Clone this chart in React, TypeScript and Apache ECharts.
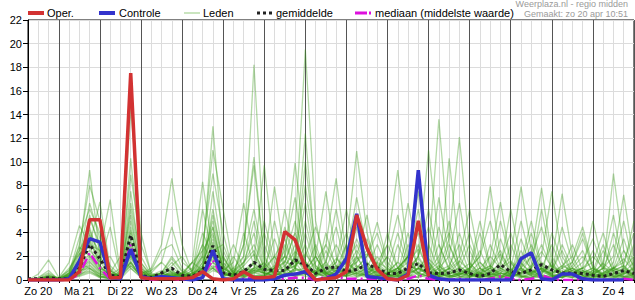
import React, { useEffect, useRef } from "react";
import * as echarts from "echarts";

// Day labels (placed at 12:00 of each day); one point every 6 hours starting Zo 20 06:00
const dayLabels = ["Zo 20", "Ma 21", "Di 22", "Wo 23", "Do 24", "Vr 25", "Za 26", "Zo 27", "Ma 28", "Di 29", "Wo 30", "Do 1", "Vr 2", "Za 3", "Zo 4"];
const stepCount = 60;

const oper = [
  0, 0, 0,
  0, 0, 0.7, 5.1,
  5.1, 0.2, 0.2, 17.5,
  0.2, 0.1, 0.1, 0.1,
  0.1, 0.2, 0.7, 0.1,
  0, 0.1, 0.7, 0.2,
  0.2, 0.3, 4.1, 3.4,
  1.0, 0, 0.1, 0.2,
  0.7, 5.5, 2.7, 0.9,
  0.1, 0, 0.4, 5.0,
  0.3,
];

const controle = [
  0, 0, 0,
  0, 0.1, 1.6, 3.5,
  3.2, 0.2, 0.1, 2.6,
  0.3, 0.1, 0.3, 0.2,
  0.1, 0, 0.2, 2.5,
  0.1, 0, 0, 0,
  0, 0.1, 0.4, 0.5,
  0.7, 0, 0.1, 0.5,
  1.8, 5.6, 0.3, 0.2,
  0.1, 0, 0.5, 9.3,
  0.4, 0.1, 0, 0,
  0, 0, 0, 0,
  0, 1.8, 2.3, 0.1,
  0, 0.5, 0.5, 0.1,
  0, 0, 0, 0,
];

const gemiddelde = [
  0.1, 0.1, 0.2,
  0.1, 0.1, 1.0, 3.0,
  1.8, 0.4, 0.3, 3.8,
  0.4, 0.2, 0.6, 1.0,
  0.4, 0.3, 0.8, 2.9,
  0.6, 0.4, 0.7, 1.5,
  0.9, 0.8, 0.8, 1.7,
  1.3, 0.55, 1.0, 1.1,
  0.7, 0.9, 1.3, 1.0,
  0.55, 0.55, 1.0, 1.4,
  0.6, 0.55, 0.6, 0.85,
  0.55, 0.3, 0.55, 1.3,
  0.7, 0.55, 0.85, 1.3,
  0.85, 0.6, 0.6, 0.55,
  0.4, 0.3, 0.55, 0.8,
  0.55,
];

const mediaan = [
  0, 0, 0,
  0, 0, 0.5, 2.3,
  1.0, 0.1, 0.1, 3.0,
  0.1, 0, 0.1, 0.1,
  0, 0, 0.3, 1.7,
  0.1, 0, 0.1, 0.2,
  0.1, 0.1, 0.1, 0.2,
  0.2, 0, 0.3, 0.3,
  0.1, 0.1, 0.1, 0.1,
  0, 0, 0.1, 0.4,
  0.1, 0, 0, 0.1,
  0, 0, 0.1, 0.3,
  0.1, 0, 0.1, 0.4,
  0.1, 0, 0, 0.1,
  0, 0, 0, 0.1,
  0,
];

// Ensemble members (Leden)
const lid01 = [0, 0.5, 1.7, 0.2, 1.5, 4.6, 3.0, 6.6, 1.0, 0.2, 4.5, 0.8, 0.1, 0.3, 0.5, 0.2, 0.6, 6.0, 2.0, 0.5, 0.3, 4.0, 1.2, 0.4, 0.2, 3.0, 1.0, 0.5, 0.3, 2.5, 0.8, 0.3, 2.0, 0.6, 0.2, 0.1, 3.0, 1.0, 0.4, 0.6, 4.5, 1.5, 0.3, 0.2, 0.5, 1.0, 5.0, 1.5, 0.3, 0.1, 0.4, 0.8, 2.5, 0.6, 0.2, 0.1, 0.3, 0.8, 1.2, 5.0];
const lid02 = [0, 0.2, 0.8, 0, 0.6, 2.5, 9.3, 2.0, 0.4, 0.1, 7.5, 1.2, 0.2, 0.1, 0.4, 0.2, 0.1, 1.0, 6.0, 1.5, 0.2, 0.4, 0.8, 0.6, 5.0, 1.2, 0.3, 0.8, 3.0, 0.6, 0.2, 1.0, 4.5, 0.8, 0.2, 0.1, 0.4, 1.0, 3.0, 0.6, 0.2, 10.3, 2.0, 0.5, 0.2, 0.1, 0.6, 0.4, 3.5, 1.0, 0.2, 0.1, 0.3, 0.6, 1.0, 5.0, 1.2, 0.3, 0.1, 0.2];
const lid03 = [0, 0.1, 0.5, 0.1, 0.3, 3.0, 8.0, 5.0, 0.8, 0.2, 3.5, 0.5, 0.1, 0.2, 0.8, 0.3, 0.2, 0.8, 2.0, 0.3, 0.6, 1.5, 4.0, 0.8, 0.2, 0.4, 1.0, 3.0, 0.6, 0.2, 0.5, 3.0, 1.0, 0.3, 0.1, 0.2, 0.5, 2.0, 7.5, 1.5, 0.3, 0.1, 0.5, 0.8, 2.5, 0.6, 0.2, 0.3, 1.0, 2.0, 4.5, 1.0, 0.3, 0.2, 0.6, 0.4, 1.5, 5.5, 1.0, 0.3];
const lid04 = [0, 0, 0.2, 0, 0.5, 2.0, 6.5, 3.5, 0.6, 0.3, 2.5, 0.3, 0.1, 0, 0.2, 0.5, 0.3, 1.2, 3.0, 0.8, 0.2, 0.5, 1.0, 4.0, 1.0, 0.3, 2.0, 12.4, 2.0, 0.5, 0.2, 0.4, 0.8, 1.5, 0.6, 4.0, 1.0, 0.3, 0.2, 0.5, 1.0, 2.0, 6.5, 1.5, 0.4, 0.2, 0.8, 0.3, 0.6, 2.0, 7.8, 2.0, 0.5, 0.2, 0.1, 0.5, 1.0, 3.0, 0.8, 0.2];
const lid05 = [0, 0.1, 0.3, 0.2, 0.4, 1.5, 5.5, 2.5, 6.8, 0.5, 1.5, 0.2, 0.1, 0.6, 0.3, 0.1, 0.4, 2.0, 1.0, 0.3, 0.1, 0.2, 0.6, 1.0, 2.0, 0.5, 0.3, 0.6, 1.5, 3.0, 8.6, 2.0, 0.5, 0.2, 0.4, 1.0, 0.3, 3.0, 1.2, 0.4, 0.2, 0.6, 1.5, 4.0, 1.0, 0.3, 0.2, 0.5, 1.0, 0.6, 0.3, 4.0, 1.5, 0.4, 0.2, 0.6, 0.3, 1.0, 3.5, 0.8];
const lid06 = [0, 0, 0.1, 0, 0.3, 1.0, 4.5, 1.5, 4.5, 0.3, 2.0, 0.4, 0.2, 0.1, 0.5, 0.3, 0.8, 3.0, 9.0, 4.0, 0.6, 0.2, 0.4, 0.3, 1.0, 2.5, 7.0, 1.5, 0.4, 0.6, 1.0, 3.0, 10.9, 4.0, 0.8, 0.3, 0.1, 0.5, 1.0, 0.6, 3.0, 1.0, 0.3, 0.2, 0.8, 1.2, 2.5, 0.6, 0.2, 0.4, 1.0, 0.3, 0.6, 1.2, 2.5, 0.5, 0.2, 0.1, 0.6, 1.5];
const lid07 = [0, 0.1, 0.2, 0.1, 0.2, 1.2, 4.0, 1.0, 0.6, 2.0, 1.0, 0.2, 0.4, 0.8, 0.3, 0.1, 0.2, 1.5, 3.5, 1.0, 0.5, 2.0, 18.2, 3.0, 0.8, 0.3, 0.5, 0.8, 2.0, 0.6, 0.2, 0.4, 1.0, 2.0, 4.9, 1.5, 0.5, 0.2, 0.3, 0.8, 0.4, 3.0, 1.0, 0.3, 0.6, 0.2, 0.1, 1.0, 5.0, 1.5, 0.4, 0.2, 0.5, 1.0, 0.6, 2.5, 0.8, 0.3, 0.2, 0.5];
const lid08 = [0, 0, 0, 0, 0.2, 0.8, 3.5, 1.2, 0.3, 0.6, 14.5, 4.0, 0.5, 0.2, 0.1, 0.3, 0.2, 0.5, 1.0, 0.3, 0.8, 1.5, 2.5, 0.6, 0.3, 0.8, 1.5, 6.5, 1.2, 0.4, 0.2, 0.6, 1.5, 2.5, 0.8, 3.0, 9.3, 2.0, 0.5, 0.3, 0.6, 0.2, 0.4, 1.0, 2.0, 5.0, 1.5, 0.4, 0.2, 0.6, 1.0, 0.8, 4.5, 1.5, 0.3, 0.2, 0.4, 0.6, 1.0, 2.0];
const lid09 = [0, 0.1, 0.2, 0.1, 0.6, 2.2, 3.0, 2.5, 0.8, 0.2, 1.2, 0.4, 0.8, 1.5, 0.6, 0.5, 1.0, 3.0, 1.5, 0.6, 0.2, 0.5, 1.5, 9.7, 2.0, 0.6, 0.3, 0.5, 0.8, 1.5, 4.5, 1.0, 0.3, 0.5, 1.2, 0.6, 0.8, 2.0, 0.6, 0.3, 1.0, 3.5, 12.1, 2.5, 0.6, 0.3, 0.2, 0.5, 1.2, 4.0, 1.0, 0.4, 0.2, 0.6, 1.0, 1.5, 4.0, 1.0, 0.3, 0.2];
const lid10 = [0, 0, 0.1, 0, 0.3, 1.8, 2.5, 1.5, 2.0, 0.4, 1.8, 0.6, 0.2, 0.1, 0.3, 0.2, 0.5, 1.0, 7.5, 2.0, 0.4, 0.2, 0.8, 1.5, 7.9, 2.0, 0.6, 0.3, 0.2, 4.0, 1.0, 0.5, 0.8, 0.3, 1.5, 3.0, 1.0, 0.5, 0.2, 3.0, 0.8, 0.3, 0.6, 0.4, 0.2, 3.0, 1.0, 0.6, 0.3, 0.2, 0.5, 1.5, 7.3, 2.0, 0.4, 0.2, 0.5, 1.0, 0.6, 3.0];
const lid11 = [0, 0, 0.3, 0.2, 0.8, 2.8, 2.0, 0.8, 0.3, 0.1, 10.3, 1.5, 0.3, 0.2, 0.4, 0.6, 0.3, 0.2, 0.8, 0.5, 2.0, 0.6, 0.3, 0.4, 1.0, 6.0, 2.0, 0.6, 0.3, 1.0, 3.0, 1.2, 0.4, 0.6, 2.0, 0.8, 0.3, 0.2, 1.0, 2.0, 13.6, 3.0, 0.8, 0.5, 0.3, 0.6, 1.5, 4.0, 1.0, 0.4, 0.2, 0.3, 0.6, 1.0, 2.0, 0.8, 0.3, 0.2, 0.5, 0.6];
const lid12 = [0, 0.1, 0, 0, 0.2, 0.6, 1.5, 0.6, 0.2, 0.5, 8.9, 3.0, 0.6, 0.2, 0.1, 0.2, 0.6, 0.4, 1.5, 0.8, 1.5, 6.5, 2.0, 0.5, 0.8, 2.0, 9.9, 2.5, 0.6, 0.3, 0.8, 1.5, 3.0, 1.0, 0.4, 0.2, 0.6, 4.0, 1.0, 0.5, 0.3, 1.0, 4.0, 1.2, 0.4, 0.2, 0.6, 0.3, 1.5, 5.0, 1.2, 0.4, 0.2, 0.5, 0.8, 0.6, 2.5, 0.8, 0.3, 0.1];
const lid13 = [0, 0, 0.1, 0.1, 0.4, 1.0, 2.0, 1.0, 0.5, 0.3, 6.5, 2.0, 0.4, 0.6, 0.2, 0.1, 0.3, 0.8, 2.5, 3.0, 0.8, 0.3, 0.6, 1.2, 0.5, 4.5, 1.5, 0.4, 0.8, 0.6, 1.5, 6.0, 2.0, 0.5, 0.3, 0.6, 1.0, 2.0, 5.0, 1.0, 0.3, 0.2, 0.5, 0.8, 4.0, 1.0, 0.3, 0.2, 0.6, 1.0, 2.0, 7.5, 2.0, 0.6, 0.3, 0.2, 0.5, 1.5, 5.0, 1.0];
const lid14 = [0, 0, 0, 0, 0.1, 0.5, 1.2, 0.4, 0.1, 0.8, 5.5, 0.8, 0.2, 0.1, 0.3, 0.6, 1.5, 2.5, 4.0, 1.2, 0.4, 3.0, 10.4, 2.0, 0.6, 0.3, 0.8, 1.0, 0.5, 3.0, 1.2, 0.3, 0.6, 1.0, 3.0, 1.0, 0.4, 0.6, 2.0, 11.0, 3.0, 0.8, 0.3, 0.6, 1.0, 0.5, 3.5, 1.0, 0.3, 0.2, 0.6, 1.2, 0.5, 1.5, 4.0, 1.0, 0.3, 0.6, 0.2, 0.4];
const lid15 = [0, 0.1, 0.2, 0.1, 0.3, 0.8, 1.0, 0.5, 0.2, 0.3, 4.0, 1.0, 0.3, 0.5, 1.5, 0.4, 0.2, 0.6, 2.5, 0.8, 3.0, 1.0, 0.4, 0.3, 1.0, 1.5, 4.0, 19.5, 5.0, 1.0, 0.3, 0.4, 0.2, 0.6, 1.0, 2.0, 5.5, 1.5, 0.6, 0.3, 0.8, 1.2, 3.0, 0.6, 0.2, 0.4, 1.0, 0.5, 2.5, 0.8, 0.3, 0.2, 0.6, 1.0, 0.4, 0.8, 3.0, 0.6, 0.2, 0.3];
const lid16 = [0, 0, 0.1, 0, 0.2, 0.6, 1.8, 0.8, 0.2, 0.6, 3.0, 0.6, 0.8, 2.5, 3.0, 1.0, 0.3, 0.5, 1.2, 0.4, 1.0, 2.0, 6.0, 1.5, 0.4, 0.8, 1.2, 2.0, 4.5, 1.5, 0.5, 1.0, 3.5, 1.2, 0.3, 0.5, 0.2, 0.8, 2.0, 6.0, 1.5, 0.4, 0.2, 0.3, 1.0, 2.0, 6.6, 1.5, 0.4, 0.2, 0.8, 0.6, 1.0, 3.0, 0.8, 0.3, 0.2, 0.5, 1.0, 0.6];
const lid17 = [0, 0, 0, 0, 0.1, 0.4, 1.0, 0.3, 0.1, 0.2, 2.2, 0.5, 1.0, 3.0, 8.6, 3.0, 0.6, 0.3, 1.0, 0.5, 0.2, 0.8, 1.5, 0.6, 1.2, 2.0, 5.0, 1.5, 0.6, 0.3, 0.8, 2.0, 7.0, 2.5, 0.6, 0.3, 1.0, 2.0, 4.0, 1.2, 0.5, 0.3, 0.6, 1.0, 2.0, 7.9, 2.0, 0.6, 0.3, 0.5, 1.0, 3.0, 1.0, 0.4, 0.2, 0.5, 1.0, 0.8, 2.5, 1.2];
const lid18 = [0, 0, 0.2, 0.1, 0.4, 1.2, 2.2, 1.2, 0.3, 0.1, 1.0, 0.3, 0.6, 1.5, 4.5, 1.5, 0.8, 4.0, 2.0, 0.6, 0.3, 1.0, 0.8, 1.0, 3.5, 1.0, 0.5, 0.8, 2.0, 7.5, 2.0, 0.6, 0.3, 0.8, 1.5, 1.0, 4.0, 1.2, 0.4, 0.2, 0.6, 1.0, 2.0, 6.0, 1.5, 0.5, 0.3, 0.8, 2.0, 1.0, 6.0, 1.5, 0.4, 0.2, 0.6, 1.0, 0.6, 4.0, 1.2, 0.3];
const lid19 = [0, 0.1, 0.1, 0, 0.2, 0.9, 1.6, 0.7, 0.2, 0.4, 1.5, 0.4, 0.2, 0.6, 2.0, 0.8, 0.3, 1.8, 5.0, 1.5, 0.6, 3.0, 9.7, 1.8, 0.5, 0.4, 1.0, 4.0, 1.0, 0.5, 0.8, 1.0, 2.0, 5.5, 1.2, 0.4, 0.2, 0.6, 1.5, 0.8, 1.5, 5.0, 1.0, 0.3, 0.6, 1.0, 0.4, 3.0, 1.0, 0.3, 0.2, 0.6, 1.2, 2.0, 4.5, 1.2, 0.4, 0.3, 0.8, 0.5];
const lid20 = [0, 0, 0, 0, 0.3, 0.7, 1.3, 0.5, 0.3, 0.2, 2.8, 0.7, 0.3, 0.4, 1.2, 2.0, 0.6, 1.0, 4.5, 1.0, 0.4, 1.2, 5.0, 1.0, 0.6, 1.5, 4.0, 1.2, 0.5, 0.8, 1.5, 4.0, 1.2, 0.5, 0.3, 0.6, 1.5, 6.5, 2.0, 0.6, 0.3, 0.5, 1.0, 3.0, 1.0, 0.4, 0.8, 0.5, 1.0, 3.0, 0.8, 0.3, 0.2, 0.6, 1.0, 2.0, 1.0, 9.0, 2.5, 0.6];
const lid21 = [0, 0.1, 0.4, 0.1, 0.5, 1.4, 1.0, 0.3, 0.1, 0.2, 1.4, 0.3, 0.1, 0.3, 0.6, 0.4, 1.5, 0.8, 1.0, 2.0, 0.6, 0.4, 1.0, 0.8, 2.0, 3.5, 1.0, 10.0, 2.5, 0.6, 0.3, 0.5, 1.0, 2.0, 4.0, 1.2, 0.4, 0.3, 0.6, 1.0, 7.0, 2.0, 0.5, 0.3, 0.2, 0.8, 1.2, 6.0, 1.5, 0.5, 0.3, 0.4, 1.0, 1.5, 3.5, 1.0, 0.4, 0.2, 0.5, 1.0];
const lid22 = [0, 0, 0.1, 0, 0.2, 0.5, 0.8, 0.2, 0.4, 1.0, 2.0, 0.5, 0.2, 0.1, 0.3, 0.5, 1.5, 8.3, 2.5, 0.6, 0.3, 1.5, 3.0, 1.0, 0.4, 0.6, 2.0, 8.0, 2.0, 0.5, 1.0, 2.0, 5.5, 1.5, 0.4, 0.3, 0.6, 1.0, 2.0, 4.5, 1.2, 0.4, 0.2, 0.6, 0.3, 2.0, 1.0, 0.4, 0.8, 0.6, 1.5, 0.8, 3.0, 1.0, 0.4, 0.3, 0.6, 1.0, 1.5, 4.0];
const lid23 = [0, 0, 0, 0, 0.1, 0.3, 0.6, 0.2, 0.1, 0.3, 1.6, 0.2, 0.3, 0.6, 0.8, 0.3, 0.8, 2.0, 13.0, 2.5, 0.6, 0.3, 1.0, 5.0, 1.5, 0.5, 0.8, 5.0, 1.2, 0.4, 0.6, 1.0, 1.5, 3.5, 1.0, 0.5, 1.0, 2.0, 6.0, 1.5, 0.5, 0.3, 0.6, 1.0, 5.0, 1.2, 0.4, 0.3, 0.6, 1.0, 3.0, 1.0, 0.4, 0.6, 0.8, 0.4, 1.0, 2.0, 7.2, 1.5];
const lid24 = [0, 0, 0.1, 0, 0.2, 0.4, 0.7, 0.3, 0.2, 0.4, 1.2, 0.4, 0.2, 0.3, 0.7, 0.2, 0.6, 2.5, 11.0, 6.0, 1.0, 0.4, 0.8, 0.6, 0.4, 1.0, 3.0, 1.0, 0.5, 1.5, 6.0, 1.5, 0.6, 0.3, 0.8, 2.0, 0.6, 0.4, 1.0, 0.8, 2.0, 4.0, 1.2, 0.5, 0.3, 0.6, 1.0, 2.0, 7.9, 2.5, 0.8, 0.4, 0.2, 0.8, 1.5, 3.5, 1.0, 0.4, 0.3, 0.6];
const lid25 = [0, 0.2, 0.6, 0.1, 0.8, 2.5, 4.2, 2.0, 0.5, 0.3, 3.2, 0.6, 0.2, 0.4, 1.0, 0.5, 0.3, 1.5, 3.8, 1.0, 0.4, 1.2, 2.2, 0.8, 1.0, 2.0, 1.5, 1.2, 0.6, 0.8, 1.8, 1.0, 2.5, 1.2, 0.5, 0.3, 0.8, 1.5, 2.6, 1.0, 0.6, 0.9, 1.6, 0.8, 0.4, 1.0, 2.2, 0.9, 0.5, 1.2, 2.4, 1.1, 0.6, 0.8, 1.0, 0.5, 0.4, 1.0, 1.8, 0.7];
const lid26 = [0, 0, 0.3, 0, 0.4, 1.8, 5.2, 3.0, 1.2, 0.4, 5.0, 1.0, 0.3, 0.6, 1.8, 0.7, 0.4, 2.2, 4.5, 0.8, 0.3, 0.6, 1.4, 0.5, 0.6, 1.2, 2.4, 1.6, 0.5, 1.0, 0.8, 0.6, 1.8, 2.2, 1.0, 0.4, 0.3, 0.9, 1.8, 0.6, 1.2, 0.5, 0.8, 1.4, 0.6, 0.3, 0.9, 1.6, 0.8, 0.4, 0.7, 1.3, 0.5, 0.3, 0.6, 1.0, 0.5, 0.8, 1.2, 0.4];
const lid27 = [0, 0.1, 0.2, 0.1, 0.6, 3.6, 6.0, 4.0, 0.6, 0.2, 2.2, 0.4, 0.2, 0.3, 0.6, 0.3, 0.5, 1.2, 2.8, 0.6, 0.2, 0.8, 1.0, 1.4, 0.6, 0.8, 1.2, 2.2, 1.0, 0.4, 0.6, 1.5, 0.8, 0.6, 1.4, 0.7, 1.5, 0.8, 0.6, 1.8, 0.9, 0.4, 1.1, 0.6, 1.5, 0.7, 0.3, 0.8, 1.4, 0.6, 1.0, 0.5, 1.2, 0.8, 0.4, 0.6, 1.4, 0.7, 0.5, 1.1];
const lid28 = [0, 0, 0.1, 0, 0.3, 1.2, 3.2, 1.6, 0.3, 0.2, 6.0, 1.4, 0.4, 0.2, 0.5, 0.4, 0.2, 0.9, 5.5, 1.8, 0.6, 0.3, 0.7, 0.4, 0.8, 1.6, 1.0, 0.7, 0.3, 0.5, 1.2, 0.8, 0.5, 1.0, 0.6, 0.3, 0.6, 1.2, 0.9, 0.5, 0.3, 0.7, 0.4, 0.9, 0.5, 0.6, 0.3, 0.4, 0.9, 0.5, 1.3, 0.6, 0.8, 0.4, 0.7, 0.3, 0.6, 1.1, 0.6, 0.3];
const lid29 = [0, 0.1, 0.4, 0.1, 1.0, 2.2, 2.8, 1.0, 0.2, 0.1, 2.6, 0.5, 0.1, 0.2, 0.4, 0.2, 0.2, 0.6, 1.8, 0.4, 0.5, 0.9, 0.6, 0.3, 0.5, 0.4, 0.9, 0.6, 0.4, 0.7, 0.5, 0.3, 0.6, 0.4, 0.8, 0.5, 0.3, 0.5, 1.0, 0.4, 0.6, 0.3, 0.5, 0.7, 0.3, 0.4, 0.6, 0.3, 0.5, 0.8, 0.4, 0.2, 0.5, 0.3, 0.6, 0.4, 0.2, 0.5, 0.3, 0.5];
const lid30 = [0, 0, 0.2, 0, 0.5, 1.6, 3.8, 2.4, 0.8, 0.3, 4.2, 0.8, 0.3, 0.5, 0.3, 0.6, 0.3, 1.0, 3.2, 1.2, 0.3, 0.5, 0.9, 0.6, 0.3, 0.9, 1.8, 0.9, 0.6, 1.3, 0.7, 0.5, 1.2, 0.7, 0.4, 0.6, 1.0, 0.5, 1.4, 0.7, 0.4, 1.0, 0.6, 0.3, 0.7, 1.2, 0.5, 0.6, 0.4, 0.7, 0.9, 0.5, 0.3, 0.6, 0.4, 0.8, 0.5, 0.3, 0.6, 0.9];

const leden = [lid01, lid02, lid03, lid04, lid05, lid06, lid07, lid08, lid09, lid10, lid11, lid12, lid13, lid14, lid15, lid16, lid17, lid18, lid19, lid20, lid21, lid22, lid23, lid24, lid25, lid26, lid27, lid28, lid29, lid30];

const FONT = '"Liberation Sans", Arial, sans-serif';

export default function App() {
  const ref = useRef<HTMLDivElement>(null);

  useEffect(() => {
    if (!ref.current) return;
    const chart = echarts.init(ref.current, null, { renderer: "svg" });
    const cats = Array.from({ length: stepCount }, (_, i) => String(i));

    const memberSeries = leden.map((d) => ({
      type: "line",
      name: "Leden",
      data: d,
      symbol: "none",
      silent: true,
      z: 2,
      lineStyle: { color: "rgba(56,154,22,0.38)", width: 1.3 },
    }));

    const legendY = 13;
    const legendText = (x: number, text: string) => ({
      type: "text",
      x,
      y: legendY,
      style: { text, fill: "#000", fontSize: 11, fontFamily: FONT, verticalAlign: "middle", align: "left" },
    });
    const legendLine = (x: number, w: number, stroke: string, lineWidth: number, lineDash?: number[]) => ({
      type: "line",
      shape: { x1: x, y1: legendY, x2: x + w, y2: legendY },
      style: { stroke, lineWidth, lineDash },
    });

    chart.setOption({
      animation: false,
      backgroundColor: "#fff",
      grid: { left: 28, right: 1, top: 20, bottom: 20, show: true, borderColor: "#000", borderWidth: 1 },
      xAxis: [
        {
          type: "category",
          data: cats,
          boundaryGap: false,
          axisLine: { lineStyle: { color: "#000", width: 1 } },
          axisTick: { show: true, interval: 0, length: 3, lineStyle: { color: "#000" } },
          axisLabel: {
            interval: (i: number) => i % 4 === 1,
            formatter: (_v: string, i: number) => dayLabels[(i - 1) / 4] ?? "",
            color: "#000",
            fontSize: 11,
            fontFamily: FONT,
            margin: 5,
          },
          splitLine: { show: true, interval: 0, lineStyle: { color: "#dcdcdc", width: 1 } },
        },
        {
          type: "category",
          data: cats,
          boundaryGap: false,
          position: "bottom",
          axisLine: { show: false },
          axisTick: { show: false },
          axisLabel: { show: false },
          splitLine: { show: true, interval: (i: number) => i % 4 === 3, lineStyle: { color: "#555", width: 1 } },
        },
      ],
      yAxis: {
        type: "value",
        min: 0,
        max: 22,
        interval: 2,
        axisLine: { show: true, lineStyle: { color: "#000", width: 1 } },
        axisTick: { show: true, length: 5, lineStyle: { color: "#000" } },
        axisLabel: { color: "#000", fontSize: 11, fontFamily: FONT, margin: 6 },
        splitLine: { show: true, lineStyle: { color: "#dcdcdc", width: 1 } },
      },
      series: [
        ...memberSeries,
        {
          type: "line",
          name: "mediaan",
          data: mediaan,
          symbol: "none",
          z: 3,
          lineStyle: { color: "#dd11dd", width: 2.5, type: [10, 4, 2, 4] },
        },
        {
          type: "line",
          name: "gemiddelde",
          data: gemiddelde,
          symbol: "none",
          z: 4,
          lineStyle: { color: "#222", width: 3, type: [3, 3] },
        },
        {
          type: "line",
          name: "Controle",
          data: controle,
          symbol: "none",
          z: 5,
          lineStyle: { color: "#3333cc", width: 3.5 },
        },
        {
          type: "line",
          name: "Oper.",
          data: oper,
          symbol: "none",
          z: 6,
          lineStyle: { color: "#d23232", width: 3.5 },
        },
      ],
      graphic: [
        legendLine(28, 16, "#d23232", 4),
        legendText(47, "Oper."),
        legendLine(99, 16, "#3333cc", 4),
        legendText(119, "Controle"),
        legendLine(184, 16, "#b8dcaa", 1.5),
        legendText(203, "Leden"),
        legendLine(257, 16, "#222", 3, [3, 3]),
        legendText(276, "gemiddelde"),
        legendLine(355, 12, "#dd11dd", 3),
        legendLine(369, 2, "#dd11dd", 3),
        legendText(375, "mediaan (middelste waarde)"),
        {
          type: "text",
          x: 628,
          y: 4,
          style: { text: "Weerplaza.nl - regio midden", fill: "#9a9a9a", fontSize: 9, fontFamily: FONT, align: "right", verticalAlign: "middle" },
        },
        {
          type: "text",
          x: 628,
          y: 14,
          style: { text: "Gemaakt: zo 20 apr 10:51", fill: "#9a9a9a", fontSize: 9, fontFamily: FONT, align: "right", verticalAlign: "middle" },
        },
      ],
    });

    return () => chart.dispose();
  }, []);

  return (
    <div
      ref={ref}
      style={{ position: "absolute", left: 0, top: 0, width: 635, height: 300, background: "#fff" }}
    />
  );
}
